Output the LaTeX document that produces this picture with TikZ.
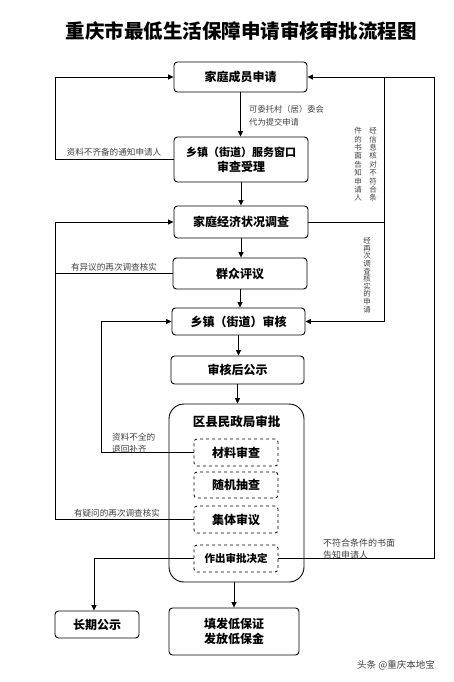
\documentclass[tikz,border=0pt]{standalone}
\usepackage{fontspec}
\setmainfont{Noto Sans CJK SC}
\usetikzlibrary{arrows.meta}
\tikzset{
  box/.style={draw, line width=0.9pt, rounded corners=3.5pt, align=center, inner sep=0pt, font=\fontsize{12}{15}\selectfont\bfseries},
  dbox/.style={draw, dashed, line width=0.8pt, rounded corners=3pt, align=center, inner sep=0pt, minimum width=84pt, minimum height=27pt, font=\fontsize{12}{14}\selectfont\bfseries},
  conn/.style={line width=0.8pt},
  arr/.style={conn, -{Triangle[length=5.5pt,width=5pt]}},
  lbl/.style={font=\fontsize{8.6}{12.5}\selectfont, text=black!75, inner sep=0pt, align=left},
  vlbl/.style={font=\fontsize{7.5}{8.4}\selectfont, text=black!75, inner sep=0pt, align=center},
}
\begin{document}
\begin{tikzpicture}[x=1pt,y=-1pt]
\useasboundingbox (0,0) rectangle (453,682);
\node[font=\fontsize{19.5}{22}\selectfont\bfseries] (title) at (241,31) {重庆市最低生活保障申请审核审批流程图};

\node[box, minimum width=133pt, minimum height=30pt] (apply) at (240.5,77) {家庭成员申请};
\node[box, minimum width=134pt, minimum height=45pt] (window) at (241,159.5) {{\fontsize{11}{15}\selectfont 乡镇（街道）服务窗口}\\审查受理};
\node[box, minimum width=134pt, minimum height=32pt] (survey) at (241,222) {家庭经济状况调查};
\node[box, minimum width=134pt, minimum height=31pt] (review) at (240,273.5) {群众评议};
\node[box, minimum width=133pt, minimum height=27pt] (town) at (238.5,321.5) {乡镇（街道）审核};
\node[box, minimum width=133pt, minimum height=28pt] (pub) at (237.5,370) {审核后公示};
\node[draw, line width=0.9pt, rounded corners=15pt, minimum width=135pt, minimum height=178pt, inner sep=0pt] (big) at (236.5,493) {};
\node[font=\fontsize{12.5}{15}\selectfont\bfseries, inner sep=0pt] (bigt) at (236.5,422) {区县民政局审批};
\node[dbox] (d1) at (236,452.5) {材料审查};
\node[dbox, minimum height=26pt] (d2) at (236,485) {随机抽查};
\node[dbox] (d3) at (236,519.5) {集体审议};
\node[dbox, font=\fontsize{10.5}{13}\selectfont\bfseries] (d4) at (236,558.5) {作出审批决定};
\node[box, minimum width=84pt, minimum height=27pt] (long) at (97,624.5) {长期公示};
\node[box, minimum width=130pt, minimum height=47pt] (issue) at (234,631.5) {填发低保证\\发放低保金};

\coordinate (lx) at (55,0);
\coordinate (mx) at (101,0);
\coordinate (lb) at (94,0);
\coordinate (rx) at (434,0);
\coordinate (ix) at (384,0);

% main flow
\draw[arr] (apply.south) -- (apply.south |- window.north);
\draw[arr] (window.south) -- (window.south |- survey.north);
\draw[arr] (survey.south) -- (survey.south |- review.north);
\draw[arr] (review.south) -- (review.south |- town.north);
\draw[arr] (town.south) -- (town.south |- pub.north);
\draw[arr] (pub.south) -- (pub.south |- big.north);
\draw[arr] (big.south -| issue.north) -- (issue.north);

% left side
\draw[arr] (window.west) -- (window.west -| lx) -- (apply.west -| lx) -- (apply.west);
\draw[arr] (d3.west) -- (d3.west -| lx) -- (survey.west -| lx) -- (survey.west);
\draw[conn] (review.west) -- (review.west -| lx);
\draw[arr] (d1.west) -- (d1.west -| mx) -- (town.west -| mx) -- (town.west);
\draw[arr] (d4.west) -- (d4.west -| lb) -- (lb |- long.north);

% right side
\draw[arr] (d4.east) -- (d4.east -| rx) -- (apply.east -| rx) -- (apply.east);
\draw[conn] (survey.east) -- (survey.east -| ix);
\draw[arr] (ix |- apply.east) -- (ix |- town.east) -- (town.east);

% labels
\node[lbl, anchor=west, font=\fontsize{8.3}{13}\selectfont] (l1) at (249,115.5) {可委托村（居）委会\\代为提交申请};
\node[lbl] (l2) at (114,152) {资料不齐备的通知申请人};
\node[lbl] (l3) at (114,267) {有异议的再次调查核实};
\node[lbl] (l4) at (117,513) {有疑问的再次调查核实};
\node[lbl, anchor=west, font=\fontsize{8.6}{12}\selectfont] (l5) at (112,443) {资料不全的\\退回补齐};
\node[lbl, anchor=west, font=\fontsize{9}{12}\selectfont] (l6) at (323,549) {不符合条件的书面\\告知申请人};
\node[vlbl] (v1) at (373,164.5) {经\\信\\息\\核\\对\\不\\符\\合\\条};
\node[vlbl] (v2) at (358,164.5) {件\\的\\书\\面\\告\\知\\申\\请\\人};
\node[vlbl, font=\fontsize{7.5}{7.6}\selectfont] (v3) at (367,275) {经\\再\\次\\调\\查\\核\\实\\的\\申\\请};
\node[font=\fontsize{9.5}{11}\selectfont, text=black!75, inner sep=0pt] (wm) at (396,665) {头条 @重庆本地宝};
\end{tikzpicture}
\end{document}
